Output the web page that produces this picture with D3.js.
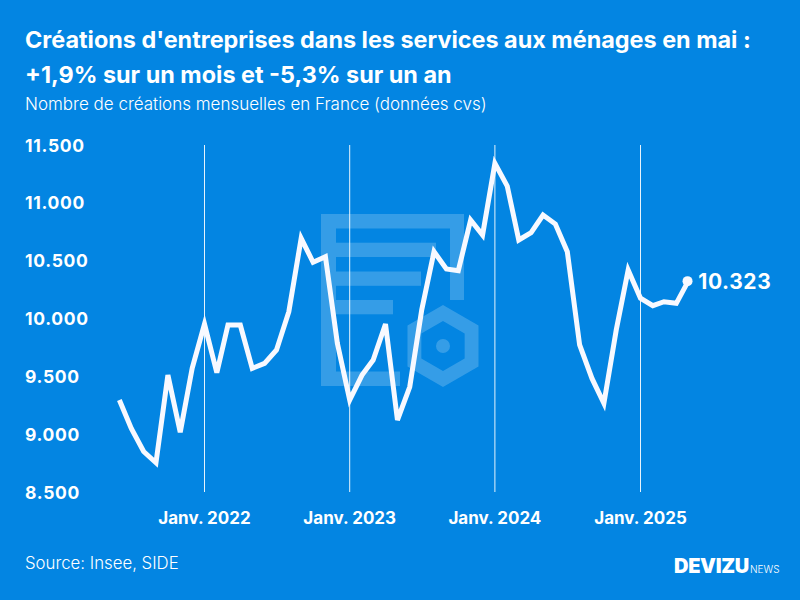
<!DOCTYPE html>
<html><head><meta charset="utf-8">
<script src="https://cdnjs.cloudflare.com/ajax/libs/d3/7.8.5/d3.min.js"></script>
<style>html,body{margin:0;padding:0;background:#0385e2}svg{display:block}text{font-family:Inter,"Open Sans",sans-serif;fill:#fff}</style>
</head><body><div id="c"></div>
<script>
const months=["2021-06","2021-07","2021-08","2021-09","2021-10","2021-11","2021-12","2022-01","2022-02","2022-03","2022-04","2022-05","2022-06","2022-07","2022-08","2022-09","2022-10","2022-11","2022-12","2023-01","2023-02","2023-03","2023-04","2023-05","2023-06","2023-07","2023-08","2023-09","2023-10","2023-11","2023-12","2024-01","2024-02","2024-03","2024-04","2024-05","2024-06","2024-07","2024-08","2024-09","2024-10","2024-11","2024-12","2025-01","2025-02","2025-03","2025-04","2025-05"];
const values=[9295,9050,8850,8753,9511,9016,9569,9952,9531,9944,9944,9569,9612,9728,10059,10693,10486,10534,9785,9295,9511,9641,9952,9122,9410,10073,10578,10428,10414,10852,10722,11342,11145,10679,10742,10895,10817,10578,9771,9482,9266,9900,10419,10175,10111,10145,10131,10323];
const yTicks=[8500,9000,9500,10000,10500,11000,11500];
const yLabels=["8.500","9.000","9.500","10.000","10.500","11.000","11.500"];
const xTicks=["2022-01","2023-01","2024-01","2025-01"];
const xLabels=["Janv. 2022","Janv. 2023","Janv. 2024","Janv. 2025"];
const titleLines=["Créations d'entreprises dans les services aux ménages en mai :","+1,9% sur un mois et -5,3% sur un an"];
const subtitle="Nombre de créations mensuelles en France (données cvs)";
const source="Source: Insee, SIDE";
const lastLabel="10.323";

const parse=d3.timeParse("%Y-%m");
const svg=d3.select("#c").append("svg").attr("width",800).attr("height",600);
svg.append("rect").attr("width",800).attr("height",600).attr("fill","#0385e2");

const x=d3.scaleTime().domain([parse("2022-01"),parse("2025-01")]).range([204.5,640.5]);
const y=d3.scaleLinear().domain([8500,11500]).range([492,145]);

// watermark
const wm=svg.append("g").attr("fill","#fff").attr("fill-opacity",0.2);
wm.append("path").attr("fill-rule","evenodd").attr("d","M321 214H464V300H450V228.5H336V371.5H400V386H321Z");
[[242.7,436],[271.5,421],[300,393]].forEach(([t,r])=>wm.append("rect").attr("x",336).attr("y",t).attr("width",r-336).attr("height",14.3));
const hex=(cx,cy,r)=>d3.range(6).map(i=>{const a=Math.PI/3*i;return (i?"L":"M")+(cx+r*Math.sin(a))+" "+(cy-r*Math.cos(a));}).join("")+"Z";
wm.append("path").attr("fill-rule","evenodd").attr("d",hex(443,346,41)+hex(443,346,25));
wm.append("circle").attr("cx",443).attr("cy",346).attr("r",7);

// axes
const xAxis=d3.axisBottom(x).tickValues(xTicks.map(parse)).tickSize(347).tickFormat((d,i)=>xLabels[i]);
const gx=svg.append("g").attr("transform","translate(-0.5,145)").call(xAxis);
gx.select(".domain").remove();
gx.selectAll("line").attr("stroke","#fff").attr("stroke-width",1).attr("opacity",.9);
gx.selectAll("text").attr("y",379).attr("dy",0).attr("font-size",17).attr("font-weight",700).style("fill","#fff");

const yAxis=d3.axisLeft(y).tickValues(yTicks).tickSize(0).tickFormat((d,i)=>yLabels[i]);
const gy=svg.append("g").attr("transform","translate(25,0)").call(yAxis);
gy.select(".domain").remove();
gy.selectAll("text").attr("x",0).attr("text-anchor","start").attr("dy","0.35em").attr("font-size",17.5).attr("letter-spacing",0.7).attr("font-weight",700).style("fill","#fff");

// line
const pts=months.map((m,i)=>({d:parse(m),v:values[i]}));
svg.append("path").datum(pts).attr("fill","none").attr("stroke","#f8f9ff").attr("stroke-width",5)
 .attr("stroke-linejoin","miter").attr("stroke-miterlimit",4)
 .attr("d",d3.line().x(d=>x(d.d)).y(d=>y(d.v)));
const last=pts[pts.length-1];
svg.append("circle").attr("cx",x(last.d)-0.7).attr("cy",y(last.v)).attr("r",5).attr("fill","#f8f9ff");
svg.append("text").attr("x",x(last.d)+10).attr("y",y(last.v)).attr("dy","0.36em").attr("font-size",21).attr("letter-spacing",0.6).attr("font-weight",700).text(lastLabel);

// text
svg.selectAll("text.t").data(titleLines).join("text").attr("class","t").attr("x",25).attr("y",(d,i)=>48+i*35).attr("font-size",23.4).attr("font-weight",700).text(d=>d);
svg.append("text").attr("x",25).attr("y",110).attr("font-size",17).attr("font-weight",300).text(subtitle);
svg.append("text").attr("x",25).attr("y",569).attr("font-size",16.8).attr("font-weight",300).text(source);
const logo=svg.append("text").attr("x",674).attr("y",573);
logo.append("tspan").attr("font-size",20).attr("font-weight",900).attr("letter-spacing",-0.3).text("DEVIZU");
logo.append("tspan").attr("font-size",10).attr("font-weight",300).attr("dx",1).text("NEWS");
</script></body></html>
